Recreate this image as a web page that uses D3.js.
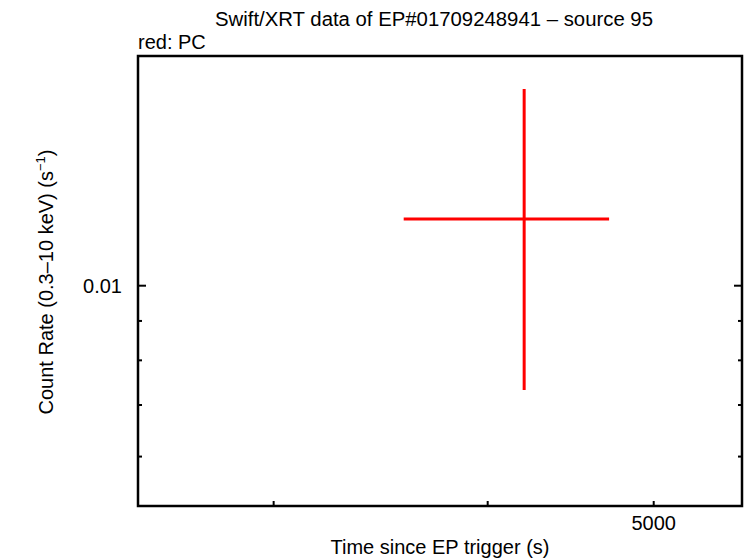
<!DOCTYPE html>
<html>
<head>
<meta charset="utf-8">
<script src="https://cdn.jsdelivr.net/npm/d3@7"></script>
<style>
  body { margin: 0; background: #fff; }
  text { font-family: "Liberation Sans", Arial, sans-serif; fill: #000; }
</style>
</head>
<body>
<script>
// light curve data (PC mode)
var times = [4201];
var timeLo = [3573];
var timeHi = [4709];
var rates = [0.01221];
var rateLo = [0.00732];
var rateHi = [0.0180];

var xDomain = [2500, 5630];
var yDomain = [0.005176, 0.01987];
var xTicks = [3000, 4000, 5000];
var xTickLabels = ["", "", "5000"];
var yMajor = [0.01];
var yMinor = [0.006, 0.007, 0.008, 0.009];

var W = 746, H = 558;
var margin = { top: 56, right: 4, bottom: 52, left: 138 };
var fs = 20;

var svg = d3.select("body").append("svg")
  .attr("width", W)
  .attr("height", H);

var x = d3.scaleLog().domain(xDomain).range([margin.left, W - margin.right]);
var y = d3.scaleLog().domain(yDomain).range([H - margin.bottom, margin.top]);

var pBottom = H - margin.bottom, pTop = margin.top;
var pLeft = margin.left, pRight = W - margin.right;

// ticks
var tk = svg.append("g").attr("stroke", "#000").attr("stroke-width", 2);
xTicks.forEach(function (t) {
  tk.append("line").attr("x1", x(t)).attr("x2", x(t)).attr("y1", pBottom).attr("y2", pBottom - 5);
});
yMajor.forEach(function (t) {
  tk.append("line").attr("y1", y(t)).attr("y2", y(t)).attr("x1", pLeft).attr("x2", pLeft + 8);
  tk.append("line").attr("y1", y(t)).attr("y2", y(t)).attr("x1", pRight).attr("x2", pRight - 8);
});
yMinor.forEach(function (t) {
  tk.append("line").attr("y1", y(t)).attr("y2", y(t)).attr("x1", pLeft).attr("x2", pLeft + 4);
  tk.append("line").attr("y1", y(t)).attr("y2", y(t)).attr("x1", pRight).attr("x2", pRight - 4);
});

// frame
svg.append("rect")
  .attr("x", pLeft).attr("y", pTop)
  .attr("width", pRight - pLeft).attr("height", pBottom - pTop)
  .attr("fill", "none").attr("stroke", "#000").attr("stroke-width", 2.5);

// tick labels
xTicks.forEach(function (t, i) {
  svg.append("text").attr("x", x(t)).attr("y", 530)
    .attr("text-anchor", "middle").attr("font-size", fs).text(xTickLabels[i]);
});
yMajor.forEach(function (t) {
  svg.append("text").attr("x", 122).attr("y", y(t) + 7)
    .attr("text-anchor", "end").attr("font-size", fs).text(d3.format(".2f")(t));
});

// error bars
var pts = svg.append("g").attr("stroke", "#ff0000").attr("stroke-width", 3);
times.forEach(function (t, i) {
  pts.append("line").attr("x1", x(timeLo[i])).attr("x2", x(timeHi[i]))
    .attr("y1", y(rates[i])).attr("y2", y(rates[i]));
  pts.append("line").attr("x1", x(t)).attr("x2", x(t))
    .attr("y1", y(rateLo[i])).attr("y2", y(rateHi[i]));
});

// titles
svg.append("text").attr("x", 434).attr("y", 26).attr("text-anchor", "middle")
  .attr("font-size", fs).attr("textLength", 438).attr("lengthAdjust", "spacingAndGlyphs")
  .text("Swift/XRT data of EP#01709248941 \u2013 source 95");
svg.append("text").attr("x", 138).attr("y", 49).attr("font-size", fs).text("red: PC");
svg.append("text").attr("x", 440).attr("y", 554).attr("text-anchor", "middle")
  .attr("font-size", fs).text("Time since EP trigger (s)");

var yl = svg.append("text")
  .attr("transform", "translate(53,282) rotate(-90)")
  .attr("text-anchor", "middle").attr("font-size", fs);
yl.append("tspan").text("Count Rate (0.3\u201310 keV) (s");
yl.append("tspan").attr("font-size", 13).attr("dy", -8).text("\u22121");
yl.append("tspan").attr("dy", 8).text(")");
</script>
</body>
</html>
